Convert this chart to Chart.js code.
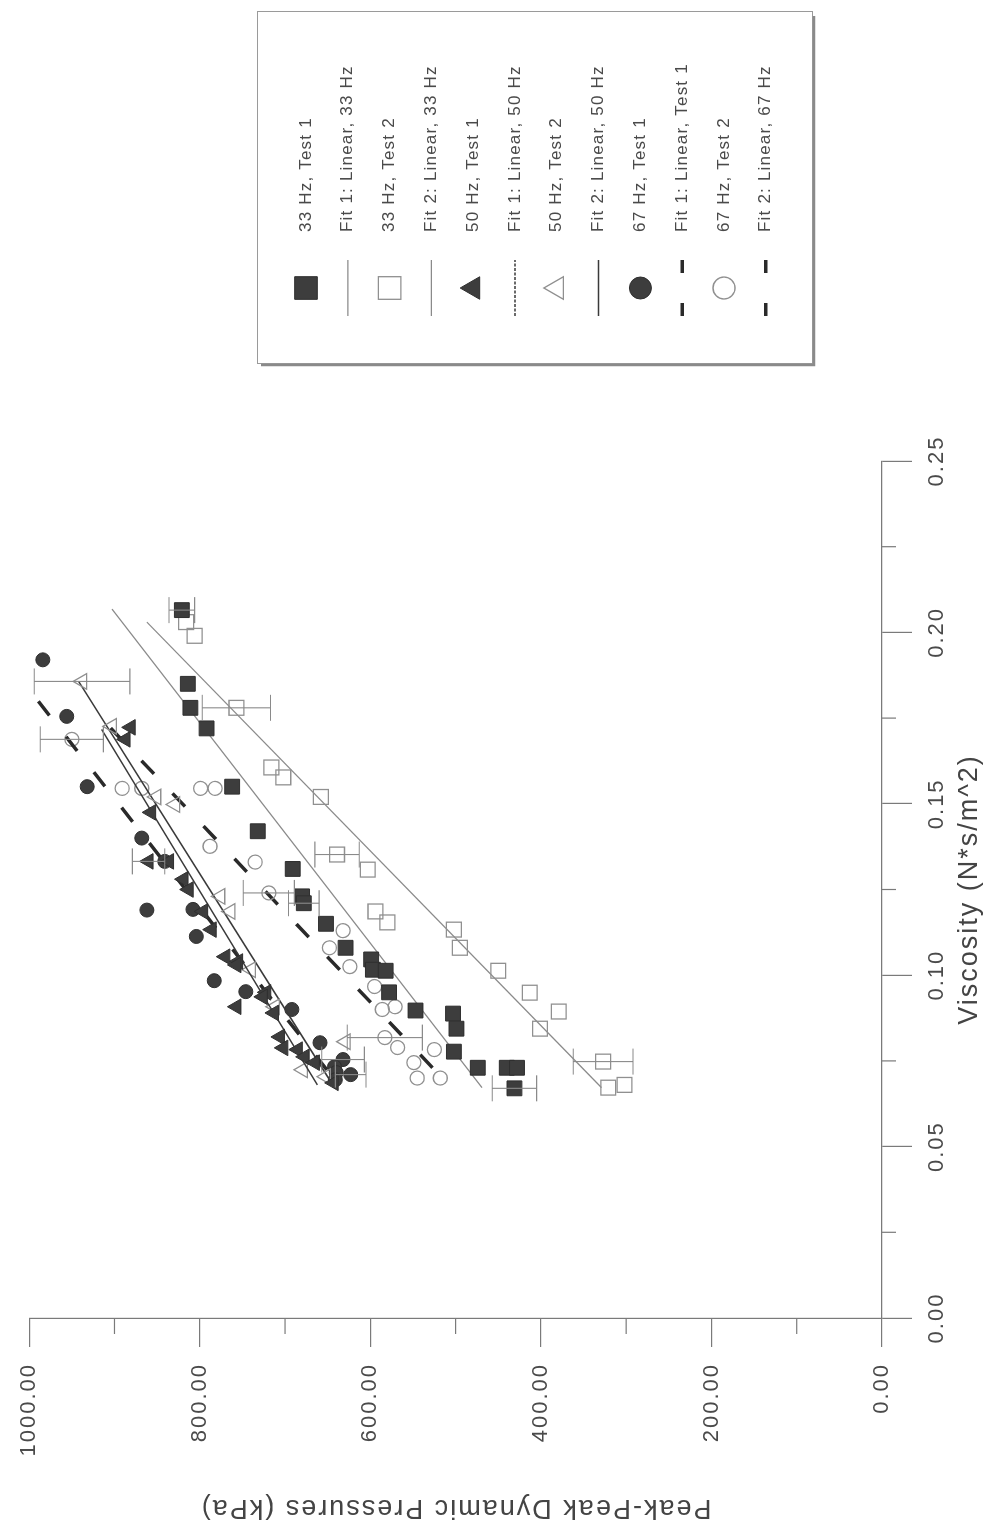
<!DOCTYPE html>
<html>
<head>
<meta charset="utf-8">
<script src="https://cdn.jsdelivr.net/npm/chart.js@4.4.1/dist/chart.umd.min.js"></script>
<style>
html, body { margin: 0; padding: 0; width: 990px; height: 1530px; overflow: hidden; background: #fff; }
/* the chart is laid out upright, then turned a quarter turn anticlockwise like the scan */
#wrap { position: absolute; left: 0; top: 0; width: 1530px; height: 990px;
        transform-origin: 0 0; transform: translateY(1530px) rotate(-90deg); }
</style>
</head>
<body>
<div id="wrap"><canvas id="chart" width="1530" height="990"></canvas></div>
<script>
// ── Data (viscosity N*s/m^2, pressure kPa) ─────────
const hz33t1V = [0.2065, 0.185, 0.178, 0.172, 0.155, 0.142, 0.131, 0.123, 0.121, 0.115, 0.108, 0.1046, 0.1016, 0.1013, 0.095, 0.0897, 0.0888, 0.0844, 0.0777, 0.073, 0.073, 0.073, 0.067];
const hz33t1P = [821, 814, 811, 792, 762, 732, 691, 680, 678, 652, 629, 599, 597, 582, 578, 547, 503, 499, 502, 474, 440, 428, 431];

const hz33t2V = [0.203, 0.199, 0.178, 0.1606, 0.1577, 0.152, 0.1352, 0.1308, 0.1186, 0.1154, 0.1133, 0.108, 0.1013, 0.0949, 0.0894, 0.0844, 0.0748, 0.0672, 0.068];
const hz33t2P = [816, 806, 757, 716, 702, 658, 639, 603, 594, 580, 502, 495, 450, 413, 379, 401, 327, 321, 302];

const hz50t1V = [0.1723, 0.1688, 0.1475, 0.1332, 0.1332, 0.128, 0.125, 0.1186, 0.1133, 0.1054, 0.104, 0.103, 0.095, 0.0937, 0.0908, 0.089, 0.082, 0.0788, 0.0783, 0.0762, 0.0745, 0.0686];
const hz50t1P = [881, 887, 857, 860, 836, 819, 813, 796, 786, 770, 755, 757, 722, 726, 757, 713, 706, 702, 685, 677, 665, 643];

const hz50t2V = [0.1857, 0.1726, 0.152, 0.1498, 0.123, 0.1186, 0.1016, 0.0908, 0.0806, 0.0724, 0.0704];
const hz50t2P = [938, 903, 851, 829, 776, 764, 740, 712, 629, 679, 652];

const hz67t1V = [0.192, 0.1755, 0.155, 0.140, 0.1332, 0.119, 0.1192, 0.1113, 0.0984, 0.0952, 0.090, 0.0803, 0.0754, 0.0733, 0.0716, 0.071, 0.0695];
const hz67t1P = [984, 956, 932, 868, 841, 862, 808, 804, 783, 746, 692, 659, 632, 642, 640, 623, 641];

const hz67t2V = [0.1688, 0.1545, 0.1545, 0.1545, 0.1545, 0.1376, 0.133, 0.124, 0.113, 0.108, 0.1025, 0.0967, 0.0908, 0.090, 0.0818, 0.0789, 0.0783, 0.0745, 0.070, 0.070];
const hz67t2P = [950, 891, 868, 799, 782, 788, 735, 719, 632, 648, 624, 595, 571, 586, 583, 568, 525, 549, 545, 518];

// fitted lines, end points
const fit1hz33V = [0.0672, 0.2068], fit1hz33P = [469, 903];
const fit2hz33V = [0.0672, 0.203],  fit2hz33P = [329, 862];
const fit1hz50V = [0.068, 0.1717],  fit1hz50P = [662, 915];
const fit2hz50V = [0.0672, 0.1857], fit2hz50P = [642, 942];
const fit1hz67V = [0.0724, 0.1814], fit1hz67P = [651, 994];
const fit2hz67V = [0.073, 0.173],   fit2hz67P = [527, 908];

// error bars (pressure +/-)
const errV = [0.2065, 0.121, 0.067, 0.178, 0.1352, 0.0748, 0.1857, 0.1688, 0.124, 0.0818, 0.1332, 0.0754, 0.071];
const errP = [821, 678, 431, 757, 639, 327, 938, 950, 719, 583, 860, 632, 623];
const errD = [15, 18, 26, 40, 26, 35, 56, 37, 30, 44, 19, 25, 18];

const viscMinor = [0.025, 0.075, 0.125, 0.175, 0.225];
const pressMinor = [100, 300, 500, 700, 900];

// ── Defaults ───────────────────────────────────────
Chart.defaults.font.family = "'Liberation Sans', Arial, sans-serif";
Chart.defaults.color = '#4a4a4a';

const AXIS = '#7a7a7a';
const toPts = (xs, ys) => xs.map((x, i) => ({ x: x, y: ys[i] }));

function markerSet(label, xs, ys, style, filled, radius, legendRadius) {
    return {
        label: label,
        data: toPts(xs, ys),
        showLine: false,
        pointStyle: style,
        pointRadius: radius,
        pointHoverRadius: radius,
        pointBackgroundColor: filled ? '#3d3d3d' : 'rgba(255,255,255,0)',
        pointBorderColor: filled ? '#2f2f2f' : '#909090',
        pointBorderWidth: filled ? 1 : 1.3,
        legendRadius: legendRadius,
    };
}

function fitSet(label, xs, ys, color, width, dash, legendDash) {
    return {
        label: label,
        data: toPts(xs, ys),
        showLine: true,
        borderColor: color,
        borderWidth: width,
        borderDash: dash,
        pointRadius: 0,
        pointHoverRadius: 0,
        legendDash: legendDash,
    };
}

// ── Plugins ────────────────────────────────────────
const spacingPlugin = {
    id: 'spacing',
    beforeDraw(chart) { chart.ctx.letterSpacing = '2px'; }
};

const minorTicks = {
    id: 'minorTicks',
    afterDraw(chart) {
        const { ctx, chartArea, scales } = chart;
        ctx.save();
        ctx.strokeStyle = AXIS;
        ctx.lineWidth = 1.2;
        viscMinor.forEach(v => {
            const px = scales.x.getPixelForValue(v);
            ctx.beginPath();
            ctx.moveTo(px, chartArea.bottom);
            ctx.lineTo(px, chartArea.bottom + 14);
            ctx.stroke();
        });
        pressMinor.forEach(p => {
            const py = scales.y.getPixelForValue(p);
            ctx.beginPath();
            ctx.moveTo(chartArea.left, py);
            ctx.lineTo(chartArea.left - 16, py);
            ctx.stroke();
        });
        ctx.restore();
    }
};

const errorBars = {
    id: 'errorBars',
    afterDatasetsDraw(chart) {
        const { ctx, scales } = chart;
        ctx.save();
        ctx.strokeStyle = '#8a8a8a';
        ctx.lineWidth = 1.1;
        errV.forEach((v, i) => {
            const px = scales.x.getPixelForValue(v);
            const lo = scales.y.getPixelForValue(errP[i] - errD[i]);
            const hi = scales.y.getPixelForValue(errP[i] + errD[i]);
            ctx.beginPath();
            ctx.moveTo(px, lo); ctx.lineTo(px, hi);
            ctx.moveTo(px - 13, lo); ctx.lineTo(px + 13, lo);
            ctx.moveTo(px - 13, hi); ctx.lineTo(px + 13, hi);
            ctx.stroke();
        });
        ctx.restore();
    }
};

const boxLegend = {
    id: 'boxLegend',
    afterDraw(chart) {
        const ctx = chart.ctx;
        const left = 1166, top = 257, w = 352, h = 555;
        ctx.save();
        ctx.letterSpacing = '1.2px';
        ctx.fillStyle = '#fff';
        ctx.fillRect(left, top, w, h);
        ctx.strokeStyle = '#9a9a9a';
        ctx.lineWidth = 1;
        ctx.strokeRect(left + 0.5, top + 0.5, w, h);
        // scanned drop shadow
        ctx.strokeStyle = '#8a8a8a';
        ctx.lineWidth = 2.5;
        ctx.beginPath();
        ctx.moveTo(left - 1, top + 4); ctx.lineTo(left - 1, top + h + 2);
        ctx.lineTo(left + w - 4, top + h + 2);
        ctx.stroke();

        const symX = 1242, lineX0 = 1214, lineX1 = 1270, textX = 1298;
        chart.data.datasets.forEach((ds, i) => {
            const y = 306 + i * 41.8;
            if (ds.showLine) {
                ctx.strokeStyle = ds.borderColor;
                ctx.lineWidth = ds.borderWidth;
                ctx.setLineDash(ds.legendDash || []);
                ctx.beginPath();
                ctx.moveTo(lineX0, y); ctx.lineTo(lineX1, y);
                ctx.stroke();
                ctx.setLineDash([]);
            } else {
                ctx.fillStyle = ds.pointBackgroundColor;
                ctx.strokeStyle = ds.pointBorderColor;
                ctx.lineWidth = ds.pointBorderWidth;
                Chart.helpers.drawPoint(ctx, {
                    pointStyle: ds.pointStyle, radius: ds.legendRadius,
                    borderWidth: ds.pointBorderWidth, rotation: 0
                }, symX, y);
            }
            ctx.fillStyle = '#4a4a4a';
            ctx.font = "17px 'Liberation Sans', Arial, sans-serif";
            ctx.textAlign = 'left';
            ctx.textBaseline = 'middle';
            ctx.fillText(ds.label, textX, y);
        });
        ctx.restore();
    }
};

// ── Chart ──────────────────────────────────────────
new Chart(document.getElementById('chart'), {
    type: 'scatter',
    data: {
        datasets: [
            markerSet('33 Hz, Test 1', hz33t1V, hz33t1P, 'rect', true, 10.5, 16),
            fitSet('Fit 1: Linear, 33 Hz', fit1hz33V, fit1hz33P, '#8a8a8a', 1.3, []),
            markerSet('33 Hz, Test 2', hz33t2V, hz33t2P, 'rect', false, 10.5, 16),
            fitSet('Fit 2: Linear, 33 Hz', fit2hz33V, fit2hz33P, '#8a8a8a', 1.3, []),
            markerSet('50 Hz, Test 1', hz50t1V, hz50t1P, 'triangle', true, 9, 13),
            fitSet('Fit 1: Linear, 50 Hz', fit1hz50V, fit1hz50P, '#3a3a3a', 1.5, [], [3, 1.5]),
            markerSet('50 Hz, Test 2', hz50t2V, hz50t2P, 'triangle', false, 9, 13),
            fitSet('Fit 2: Linear, 50 Hz', fit2hz50V, fit2hz50P, '#3a3a3a', 1.5, []),
            markerSet('67 Hz, Test 1', hz67t1V, hz67t1P, 'circle', true, 7, 11),
            fitSet('Fit 1: Linear, Test 1', fit1hz67V, fit1hz67P, '#2a2a2a', 3.5, [18, 27], [13, 30]),
            markerSet('67 Hz, Test 2', hz67t2V, hz67t2P, 'circle', false, 7, 11),
            fitSet('Fit 2: Linear, 67 Hz', fit2hz67V, fit2hz67P, '#2a2a2a', 3.5, [18, 27], [13, 30]),
        ]
    },
    options: {
        responsive: false,
        animation: false,
        devicePixelRatio: 1,
        layout: { padding: { left: 0, top: 25, right: 461, bottom: 0 } },
        plugins: {
            legend: { display: false },
            tooltip: { enabled: false }
        },
        scales: {
            x: {
                type: 'linear',
                min: 0, max: 0.25,
                afterFit: s => { s.height = 108; },
                ticks: {
                    stepSize: 0.05,
                    maxRotation: 0,
                    padding: 12,
                    color: '#4a4a4a',
                    font: { size: 22 },
                    callback: v => v.toFixed(2)
                },
                grid: { display: true, drawOnChartArea: false, drawTicks: true, tickLength: 30, color: AXIS, lineWidth: 1.2 },
                border: { display: true, color: AXIS, width: 1.2 },
                title: {
                    display: true,
                    text: 'Viscosity (N*s/m^2)',
                    color: '#444',
                    font: { size: 27 },
                    padding: { top: 0, bottom: 4 }
                }
            },
            y: {
                type: 'linear',
                min: 0, max: 1000,
                afterFit: s => { s.width = 212; },
                ticks: {
                    stepSize: 200,
                    padding: 16,
                    color: '#4a4a4a',
                    font: { size: 22 },
                    callback: v => v.toFixed(2)
                },
                grid: { display: true, drawOnChartArea: false, drawTicks: true, tickLength: 29, color: AXIS, lineWidth: 1.2 },
                border: { display: true, color: AXIS, width: 1.2 },
                title: {
                    display: true,
                    text: 'Peak-Peak Dynamic Pressures (kPa)',
                    color: '#444',
                    font: { size: 27 },
                    padding: { top: 6, bottom: 0 }
                }
            }
        }
    },
    plugins: [spacingPlugin, errorBars, minorTicks, boxLegend]
});
</script>
</body>
</html>
